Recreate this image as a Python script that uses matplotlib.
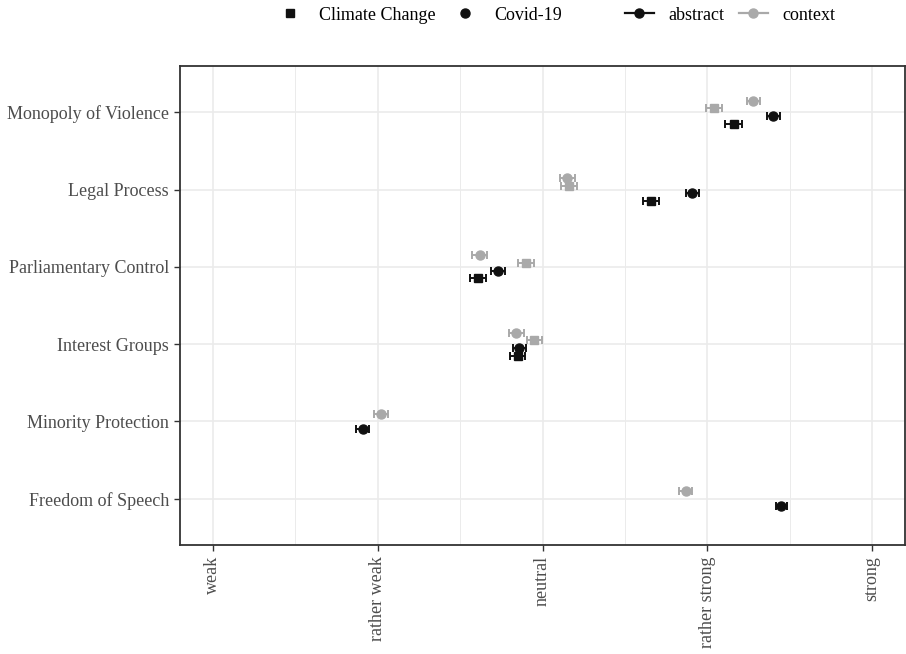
import matplotlib
matplotlib.use("Agg")
import matplotlib.pyplot as plt
import numpy as np
from matplotlib.lines import Line2D

nan = np.nan
categories = ["Freedom of Speech", "Minority Protection", "Interest Groups",
              "Parliamentary Control", "Legal Process", "Monopoly of Violence"]
tick_values = [1, 2, 3, 4, 5]
tick_labels = ["weak", "rather weak", "neutral", "rather strong", "strong"]

# values per group (nan = not measured)
context_covid = [3.87, 2.02, 2.84, 2.62, 3.15, 4.28]
context_covid_err = [0.04, 0.04, 0.045, 0.045, 0.045, 0.04]
context_climate = [nan, nan, 2.95, 2.90, 3.16, 4.04]
context_climate_err = [nan, nan, 0.045, 0.05, 0.05, 0.05]
abstract_covid = [4.45, 1.91, 2.86, 2.73, 3.91, 4.40]
abstract_covid_err = [0.035, 0.04, 0.04, 0.045, 0.04, 0.04]
abstract_climate = [nan, nan, 2.85, 2.61, 3.66, 4.16]
abstract_climate_err = [nan, nan, 0.045, 0.05, 0.05, 0.05]

BLACK = "#111111"
GREY = "#A9A9A9"
groups = [  # top to bottom within a category
    (context_covid, context_covid_err, "o", GREY),
    (context_climate, context_climate_err, "s", GREY),
    (abstract_covid, abstract_covid_err, "o", BLACK),
    (abstract_climate, abstract_climate_err, "s", BLACK),
]

serif = "Liberation Serif"
FS = 13

fig = plt.figure(figsize=(9.06, 6.54), dpi=100)
ax = fig.add_axes([180/906, 1-545/654, 725/906, (545-66)/654])

dodge_w = 0.4
for ci in range(len(categories)):
    present = [g for g in groups if not np.isnan(g[0][ci])]
    n = len(present)
    for k, (vals, errs, mk, col) in enumerate(present):
        off = dodge_w / n * ((n - 1) / 2 - k)
        ax.errorbar([vals[ci]], [ci + 1 + off], xerr=[errs[ci]], fmt=mk,
                    color=col, ecolor=col, markersize=6.5 if mk == "o" else 6,
                    elinewidth=1.4, capsize=2.6, capthick=1.4, zorder=3)

ax.set_xlim(0.8, 5.2)
ax.set_ylim(0.4, 6.6)
ax.set_xticks(tick_values)
ax.set_xticklabels(tick_labels, rotation=90, ha="center", va="top",
                   family=serif, fontsize=FS, color="#4D4D4D")
ax.set_xticks([1.5, 2.5, 3.5, 4.5], minor=True)
ax.set_yticks(range(1, len(categories) + 1))
ax.set_yticklabels(categories, family=serif, fontsize=FS, color="#4D4D4D")
ax.tick_params(axis="both", which="major", length=4, width=1.0, color="#333333", pad=4)
ax.tick_params(axis="x", which="minor", length=0)
ax.grid(True, which="major", color="#EBEBEB", linewidth=1.2, zorder=0)
ax.grid(True, which="minor", axis="x", color="#EBEBEB", linewidth=0.7, zorder=0)
ax.set_axisbelow(True)
for sp in ax.spines.values():
    sp.set_color("#333333")
    sp.set_linewidth(1.3)

# legends
h1 = [Line2D([], [], marker="s", color=BLACK, linestyle="none", markersize=6),
      Line2D([], [], marker="o", color=BLACK, linestyle="none", markersize=6.5)]
leg1 = fig.legend(h1, ["Climate Change", "Covid-19"], loc="center left",
                  bbox_to_anchor=((290-9)/906, 1-15/654), ncol=2, frameon=False,
                  borderpad=0, borderaxespad=0, handlelength=1.0, handletextpad=1.1,
                  columnspacing=1.15, prop={"family": serif, "size": FS})
h2 = [Line2D([], [], marker="o", color=BLACK, linewidth=1.6, markersize=6.5),
      Line2D([], [], marker="o", color=GREY, linewidth=1.6, markersize=6.5)]
leg2 = fig.legend(h2, ["abstract", "context"], loc="center left",
                  bbox_to_anchor=(625/906, 1-15/654), ncol=2, frameon=False,
                  borderpad=0, borderaxespad=0, handlelength=1.6, handletextpad=0.8,
                  columnspacing=0.8, prop={"family": serif, "size": FS})

fig.savefig("out.png", dpi=100)
